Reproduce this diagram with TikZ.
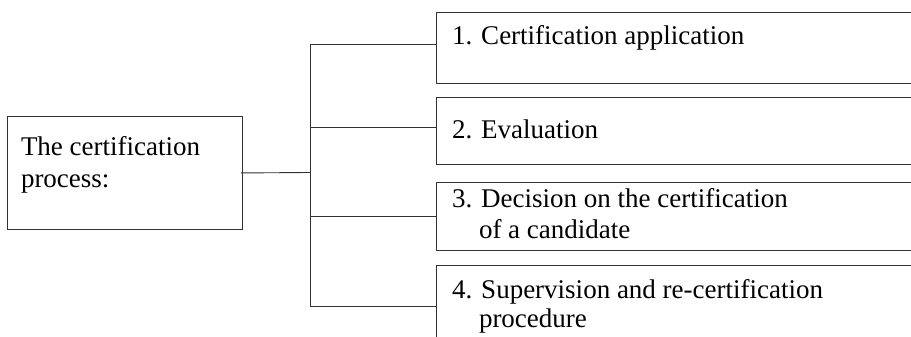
\documentclass[tikz,border=0pt]{standalone}
\usepackage{fontspec}
\setmainfont{Liberation Serif}
\begin{document}
\begin{tikzpicture}[x=1pt,y=-1pt,
  boxline/.style={draw=black!80, line width=0.9pt},
  conn/.style={draw=black!80, line width=0.9pt},
  txt/.style={anchor=base west, inner sep=0pt, outer sep=0pt, font=\fontsize{27}{31}\selectfont, text=black}]
\useasboundingbox (0,0) rectangle (911,337);
\clip (0,0) rectangle (911,337);
% left box
\node[boxline, rectangle, anchor=north west, minimum width=235pt, minimum height=113pt, inner sep=0pt] (L) at (7,116) {};
\node[txt] (Lt1) at (21,155) {The certification};
\node[txt] (Lt2) at (21,187) {process:};
% right boxes (cut by the right edge)
\node[boxline, rectangle, anchor=north west, minimum width=520pt, minimum height=70.5pt, inner sep=0pt] (B1) at (436,12.5) {};
\node[boxline, rectangle, anchor=north west, minimum width=520pt, minimum height=67pt, inner sep=0pt] (B2) at (436,97) {};
\node[boxline, rectangle, anchor=north west, minimum width=520pt, minimum height=68pt, inner sep=0pt] (B3) at (436,182) {};
\node[boxline, rectangle, anchor=north west, minimum width=520pt, minimum height=110pt, inner sep=0pt] (B4) at (436,264.5) {};
% texts
\node[txt] (T1) at (452,45) {1. Certification application};
\node[txt] (T2) at (452,138) {2. Evaluation};
\node[txt] (T3a) at (452,207) {3. Decision on the certification};
\node[txt] (T3b) at (479,238) {of a candidate};
\node[txt] (T4a) at (452,298) {4. Supervision and re-certification};
\node[txt] (T4b) at (479,327) {procedure};
% connectors
\coordinate (S) at (310,172.5);
\coordinate (J1) at (310,44);
\coordinate (J2) at (310,127);
\coordinate (J3) at (310,216);
\coordinate (J4) at (310,306);
\draw[conn] ([xshift=-2pt]L.east) -- (S);
\draw[conn] (J1) -- (J4);
\draw[conn] (J1) -- (B1.west |- J1);
\draw[conn] (J2) -- (B2.west |- J2);
\draw[conn] (J3) -- (B3.west |- J3);
\draw[conn] (J4) -- (B4.west |- J4);
\end{tikzpicture}
\end{document}
